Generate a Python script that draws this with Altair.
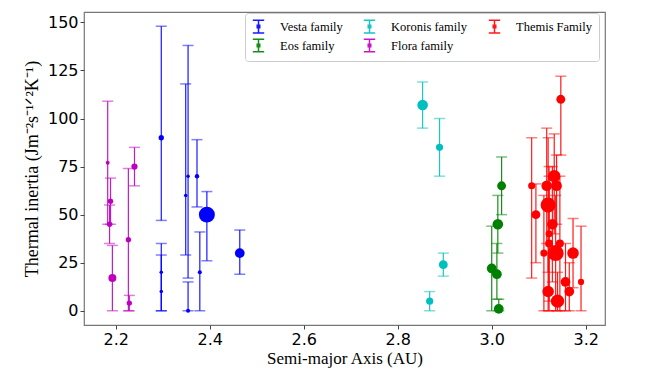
import altair as alt
import pandas as pd

families = ["Vesta family", "Eos family", "Koronis family", "Flora family", "Themis Family"]
fam_colors = ["#0000ff", "#008000", "#00bfbf", "#bf00bf", "#ff0000"]

# Flora family
flora_a = [2.183, 2.189, 2.187, 2.193, 2.229, 2.227, 2.240]
flora_v = [77, 57, 45, 17, 4, 37, 75]
flora_lo = [45, 45, 35, 0, 0, 0, 65]
flora_hi = [109, 69, 55, 34, 8, 74, 85]
flora_r = [2.2, 3, 3, 4.5, 3, 3, 3.5]

# Vesta family
vesta_a = [2.297, 2.297, 2.297, 2.349, 2.354, 2.354, 2.373, 2.379, 2.394, 2.464]
vesta_v = [90, 20, 10, 60, 70, 0, 70, 20, 50, 30]
vesta_lo = [47, 0, 0, 29, 17, 0, 54, 0, 26, 19]
vesta_hi = [148, 35, 29, 118, 138, 15, 89, 41, 62, 42]
vesta_r = [3, 2, 2, 2, 2, 2.3, 2.5, 2.3, 9, 5.5]

# Koronis family
koronis_a = [2.853, 2.889, 2.897, 2.868]
koronis_v = [107, 85, 24, 5]
koronis_lo = [95, 70, 18, 0]
koronis_hi = [119, 100, 30, 10]
koronis_r = [6, 4, 5, 4]

# Eos family
eos_a = [3.021, 3.013, 3.000, 3.011, 3.015]
eos_v = [65, 45, 22, 19, 1]
eos_lo = [50, 30, 0, 6, 0]
eos_hi = [80, 60, 44, 35, 6]
eos_r = [5, 6, 5.5, 5.5, 5.5]

# Themis family
themis_a = [3.147, 3.085, 3.094, 3.117, 3.133, 3.138, 3.120, 3.129, 3.122, 3.122,
            3.145, 3.111, 3.136, 3.173, 3.157, 3.190, 3.120, 3.165, 3.140]
themis_v = [110, 65, 50, 65, 70, 65, 55, 45, 40, 35, 35, 30, 30, 30, 15, 15, 10, 10, 5]
themis_lo = [81, 17, 25, 35, 40, 45, 20, 15, 5, 0, 0, 0, 0, 12, 0, 0, 0, 0, 0]
themis_hi = [122, 90, 66, 95, 92, 81, 90, 75, 75, 70, 70, 60, 60, 48, 35, 44, 30, 25, 20]
themis_r = [5, 4, 5, 6, 7, 6, 8.5, 6, 4, 4.5, 4.5, 4, 9, 6.5, 5.5, 3.5, 6.5, 5.5, 7.5]

x_ticks = [2.2, 2.4, 2.6, 2.8, 3.0, 3.2]
y_ticks = [0, 25, 50, 75, 100, 125, 150]

rows = []
for name, a, v, lo, hi, r in [
    ("Vesta family", vesta_a, vesta_v, vesta_lo, vesta_hi, vesta_r),
    ("Eos family", eos_a, eos_v, eos_lo, eos_hi, eos_r),
    ("Koronis family", koronis_a, koronis_v, koronis_lo, koronis_hi, koronis_r),
    ("Flora family", flora_a, flora_v, flora_lo, flora_hi, flora_r),
    ("Themis Family", themis_a, themis_v, themis_lo, themis_hi, themis_r),
]:
    for i in range(len(a)):
        rows.append({"family": name, "a": a[i], "v": v[i], "lo": lo[i], "hi": hi[i],
                     "size": 3.14159 * r[i] ** 2})
df = pd.DataFrame(rows)

xs = alt.Scale(domain=[2.1326, 3.241], nice=False, zero=False)
ys = alt.Scale(domain=[-7.4, 155.4], nice=False, zero=False)
cs = alt.Scale(domain=families, range=fam_colors)

legend_path = ("M0,-1L0,1M-0.9,-1L0.9,-1M-0.9,1L0.9,1"
               "M-0.2,-0.2L0.2,-0.2L0.2,0.2L-0.2,0.2Z")

base = alt.Chart(df)

xenc = alt.X("a:Q", scale=xs, title="Semi-major Axis (AU)",
             axis=alt.Axis(values=x_ticks, format=".1f", grid=False, domain=False))
yenc = alt.Y("lo:Q", scale=ys, title="Thermal inertia (Jm⁻²s⁻¹ᐟ²K⁻¹)",
             axis=alt.Axis(values=y_ticks, grid=False, domain=False))

rules = base.mark_rule(strokeWidth=1.2, opacity=0.9).encode(
    x=xenc, y=yenc, y2="hi:Q",
    color=alt.Color("family:N", scale=cs, sort=families,
                    legend=alt.Legend(
                        title=None, orient="none", legendX=161, legendY=1,
                        columns=3, symbolType=legend_path, symbolSize=160,
                        symbolStrokeWidth=1.5, labelFont="Liberation Serif",
                        labelFontSize=12.5, labelColor="black", labelOffset=14,
                        columnPadding=17, rowPadding=0, padding=6,
                        strokeColor="#cccccc", cornerRadius=3, fillColor="white")),
)

caps_lo = base.mark_tick(orient="horizontal", size=11, thickness=1.5, opacity=0.5).encode(
    x=alt.X("a:Q", scale=xs), y=alt.Y("lo:Q", scale=ys),
    color=alt.Color("family:N", scale=cs, legend=None),
)
caps_hi = base.mark_tick(orient="horizontal", size=11, thickness=1.5, opacity=0.5).encode(
    x=alt.X("a:Q", scale=xs), y=alt.Y("hi:Q", scale=ys),
    color=alt.Color("family:N", scale=cs, legend=None),
)
points = base.mark_circle(opacity=1).encode(
    x=alt.X("a:Q", scale=xs), y=alt.Y("v:Q", scale=ys),
    color=alt.Color("family:N", scale=cs, legend=None),
    size=alt.Size("size:Q", scale=None),
)

chart = alt.layer(rules, caps_lo, caps_hi, points).resolve_legend(
    color="independent"
).properties(
    width=521, height=313,
    autosize=alt.AutoSizeParams(type="none"),
    padding={"left": 76, "top": 4, "right": 30, "bottom": 50},
).configure_view(
    stroke="#777777", strokeWidth=1.2
).configure_axis(
    labelFont="DejaVu Sans", labelFontSize=16, labelColor="black",
    tickColor="#444444", tickSize=4, labelPadding=2,
    titleFont="Liberation Serif", titleFontSize=17, titleFontWeight="normal",
    titleColor="black",
).configure_axisX(titlePadding=3).configure_axisY(titlePadding=6, titleFontSize=18)

chart.save("out.html", embed_options={"renderer": "svg", "actions": False})
